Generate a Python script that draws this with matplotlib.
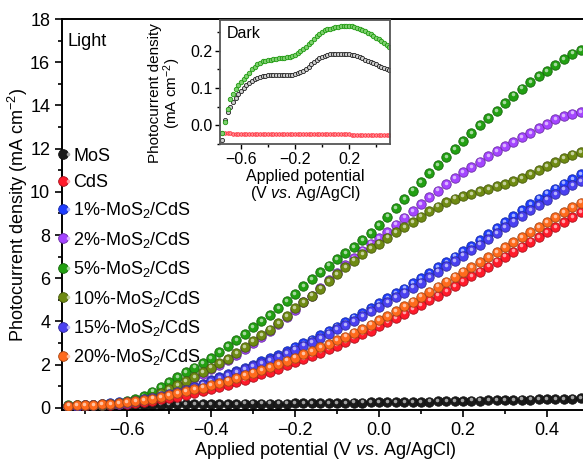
import numpy as np
import matplotlib
matplotlib.use("Agg")
import matplotlib.pyplot as plt
from matplotlib.lines import Line2D
from matplotlib.legend_handler import HandlerTuple
from matplotlib import transforms
from matplotlib.colors import to_rgb

plt.rcParams['font.family'] = ['Liberation Sans', 'DejaVu Sans']
plt.rcParams['mathtext.fontset'] = 'custom'
plt.rcParams['mathtext.rm'] = 'Liberation Sans'
plt.rcParams['mathtext.it'] = 'Liberation Sans:italic'

# ---- main panel (light), potential sweep every 0.02 V ----
potential = np.linspace(-0.74, 0.48, 62)

mos = [0.08, 0.09, 0.10, 0.11, 0.12, 0.12, 0.13, 0.13, 0.14, 0.14,
       0.15, 0.15, 0.16, 0.16, 0.16, 0.17, 0.17, 0.17, 0.18, 0.18,
       0.18, 0.19, 0.19, 0.19, 0.20, 0.20, 0.20, 0.21, 0.21, 0.21,
       0.22, 0.22, 0.23, 0.23, 0.24, 0.24, 0.25, 0.25, 0.26, 0.26,
       0.27, 0.28, 0.28, 0.29, 0.30, 0.30, 0.31, 0.32, 0.33, 0.33,
       0.34, 0.35, 0.36, 0.37, 0.38, 0.38, 0.39, 0.40, 0.41, 0.42,
       0.43, 0.44]
cds = [0.08, 0.09, 0.10, 0.11, 0.12, 0.14, 0.16, 0.19, 0.23, 0.28,
       0.33, 0.39, 0.45, 0.52, 0.59, 0.67, 0.76, 0.86, 0.96, 1.07,
       1.18, 1.30, 1.42, 1.55, 1.68, 1.82, 1.96, 2.10, 2.25, 2.40,
       2.56, 2.72, 2.88, 3.05, 3.22, 3.40, 3.58, 3.77, 3.96, 4.16,
       4.36, 4.56, 4.77, 4.98, 5.20, 5.42, 5.64, 5.86, 6.08, 6.31,
       6.54, 6.77, 7.00, 7.23, 7.46, 7.69, 7.92, 8.15, 8.38, 8.61,
       8.84, 9.07]
p1 = [0.10, 0.11, 0.13, 0.15, 0.18, 0.21, 0.25, 0.29, 0.34, 0.40,
      0.47, 0.55, 0.64, 0.74, 0.85, 0.98, 1.12, 1.28, 1.42, 1.58,
      1.72, 1.86, 2.00, 2.15, 2.30, 2.45, 2.62, 2.80, 2.98, 3.16,
      3.36, 3.56, 3.76, 3.97, 4.18, 4.40, 4.62, 4.85, 5.08, 5.30,
      5.52, 5.76, 6.00, 6.25, 6.50, 6.75, 7.00, 7.25, 7.50, 7.78,
      8.05, 8.32, 8.60, 8.88, 9.15, 9.42, 9.68, 9.92, 10.15, 10.38,
      10.60, 10.82]
p2 = [0.09, 0.10, 0.11, 0.12, 0.14, 0.16, 0.19, 0.24, 0.30, 0.37,
      0.48, 0.63, 0.80, 0.98, 1.16, 1.36, 1.58, 1.80, 2.00, 2.20,
      2.45, 2.72, 3.00, 3.28, 3.56, 3.86, 4.20, 4.55, 4.88, 5.20,
      5.55, 5.90, 6.26, 6.60, 6.94, 7.28, 7.60, 7.85, 8.15, 8.48,
      8.80, 9.12, 9.42, 9.75, 10.05, 10.35, 10.65, 10.92, 11.15, 11.40,
      11.65, 11.88, 12.10, 12.30, 12.52, 12.72, 12.95, 13.15, 13.35, 13.50,
      13.62, 13.70]
p5 = [0.12, 0.13, 0.14, 0.15, 0.17, 0.20, 0.24, 0.30, 0.40, 0.55,
      0.75, 0.97, 1.20, 1.42, 1.64, 1.86, 2.08, 2.30, 2.58, 2.86,
      3.12, 3.40, 3.72, 4.02, 4.30, 4.62, 4.95, 5.28, 5.62, 5.95,
      6.28, 6.58, 6.88, 7.15, 7.45, 7.75, 8.10, 8.45, 8.85, 9.25,
      9.65, 10.05, 10.45, 10.85, 11.25, 11.62, 11.98, 12.35, 12.72, 13.08,
      13.42, 13.75, 14.10, 14.45, 14.78, 15.08, 15.35, 15.60, 15.88, 16.15,
      16.40, 16.55]
p10 = [0.10, 0.11, 0.12, 0.13, 0.15, 0.18, 0.21, 0.26, 0.32, 0.40,
       0.52, 0.68, 0.86, 1.04, 1.22, 1.42, 1.64, 1.86, 2.06, 2.26,
       2.52, 2.80, 3.08, 3.35, 3.62, 3.92, 4.25, 4.60, 4.90, 5.20,
       5.52, 5.85, 6.20, 6.50, 6.82, 7.12, 7.40, 7.60, 7.88, 8.12,
       8.35, 8.58, 8.85, 9.10, 9.32, 9.52, 9.68, 9.80, 9.90, 10.02,
       10.14, 10.25, 10.36, 10.50, 10.65, 10.82, 11.00, 11.20, 11.38, 11.55,
       11.72, 11.85]
p15 = [0.09, 0.10, 0.12, 0.14, 0.17, 0.20, 0.24, 0.28, 0.33, 0.39,
       0.46, 0.54, 0.62, 0.72, 0.83, 0.95, 1.08, 1.23, 1.37, 1.52,
       1.66, 1.80, 1.94, 2.08, 2.22, 2.37, 2.53, 2.70, 2.88, 3.05,
       3.24, 3.43, 3.63, 3.83, 4.03, 4.24, 4.46, 4.68, 4.90, 5.12,
       5.33, 5.56, 5.80, 6.05, 6.30, 6.55, 6.80, 7.05, 7.30, 7.56,
       7.82, 8.08, 8.35, 8.62, 8.88, 9.14, 9.40, 9.64, 9.88, 10.10,
       10.30, 10.48]
p20 = [0.10, 0.12, 0.13, 0.14, 0.16, 0.18, 0.21, 0.25, 0.30, 0.36,
       0.43, 0.51, 0.59, 0.67, 0.76, 0.85, 0.94, 1.04, 1.15, 1.26,
       1.38, 1.50, 1.63, 1.76, 1.90, 2.04, 2.18, 2.33, 2.48, 2.64,
       2.80, 2.96, 3.13, 3.30, 3.48, 3.66, 3.85, 4.05, 4.26, 4.48,
       4.70, 4.92, 5.15, 5.38, 5.61, 5.84, 6.07, 6.30, 6.53, 6.76,
       6.99, 7.22, 7.45, 7.68, 7.91, 8.14, 8.37, 8.60, 8.83, 9.06,
       9.28, 9.50]

labels = ['MoS', 'CdS', '1%-MoS$_2$/CdS', '2%-MoS$_2$/CdS', '5%-MoS$_2$/CdS',
          '10%-MoS$_2$/CdS', '15%-MoS$_2$/CdS', '20%-MoS$_2$/CdS']
series = [mos, cds, p1, p2, p5, p10, p15, p20]
colors = ['#1a1a1a', '#ff1a2a', '#1f3dff', '#a445ff', '#22a012',
          '#6e8a12', '#4a40f0', '#ff6a1c']

# ---- inset (dark) ----
dark_v = np.linspace(-0.74, 0.50, 63)
dark_mos = [-0.040, 0.015, 0.035, 0.050, 0.062, 0.073, 0.083, 0.092, 0.100, 0.107,
            0.113, 0.118, 0.123, 0.127, 0.130, 0.132, 0.133, 0.134, 0.134, 0.134,
            0.134, 0.134, 0.134, 0.134, 0.135, 0.135, 0.136, 0.137, 0.139, 0.142,
            0.146, 0.151, 0.157, 0.163, 0.169, 0.175, 0.179, 0.183, 0.186, 0.188,
            0.190, 0.191, 0.192, 0.192, 0.192, 0.192, 0.191, 0.190, 0.189, 0.187,
            0.185, 0.182, 0.179, 0.176, 0.173, 0.170, 0.167, 0.163, 0.160, 0.157,
            0.154, 0.151, 0.148]
dark_cds = [-0.020, -0.021, -0.021, -0.021, -0.022, -0.022, -0.022, -0.022, -0.022, -0.022,
            -0.022, -0.022, -0.022, -0.022, -0.022, -0.023, -0.023, -0.023, -0.023, -0.023,
            -0.023, -0.023, -0.023, -0.023, -0.023, -0.023, -0.023, -0.023, -0.023, -0.023,
            -0.024, -0.024, -0.024, -0.024, -0.024, -0.024, -0.024, -0.024, -0.024, -0.024,
            -0.024, -0.024, -0.024, -0.024, -0.024, -0.024, -0.024, -0.024, -0.025, -0.025,
            -0.025, -0.025, -0.025, -0.025, -0.025, -0.025, -0.025, -0.025, -0.025, -0.025,
            -0.025, -0.025, -0.025]
dark_p5 = [-0.020, 0.010, 0.045, 0.070, 0.085, 0.097, 0.107, 0.116, 0.124, 0.132,
           0.140, 0.150, 0.157, 0.163, 0.168, 0.171, 0.173, 0.175, 0.176, 0.177,
           0.178, 0.179, 0.180, 0.181, 0.182, 0.184, 0.186, 0.189, 0.193, 0.198,
           0.204, 0.210, 0.217, 0.224, 0.232, 0.239, 0.245, 0.250, 0.254, 0.257,
           0.259, 0.261, 0.263, 0.264, 0.265, 0.266, 0.266, 0.266, 0.265, 0.263,
           0.261, 0.258, 0.255, 0.252, 0.248, 0.244, 0.240, 0.235, 0.230, 0.225,
           0.220, 0.215, 0.210]


def shade(c, f):
    r = np.array(to_rgb(c))
    if f < 0:
        return tuple(r * (1 + f))
    return tuple(r + (1 - r) * f)


def spheres(ax, x, y, c, ms, z):
    ax.plot(x, y, 'o', ms=ms, mfc=c, mec=shade(c, -0.35), mew=0.6,
            ls='none', zorder=z)
    hl = transforms.offset_copy(ax.transData, fig=ax.figure, x=-0.5, y=0.9,
                                units='points')
    ax.plot(x, y, 'o', ms=ms * 0.38, mfc=shade(c, 0.6), mec='none',
            ls='none', zorder=z + 0.5, transform=hl)


W, H = 583, 461
fig = plt.figure(figsize=(W / 100, H / 100), dpi=100)
ax = fig.add_axes([62 / W, 1 - 410 / H, 527 / W, 391 / H])

for k, (yv, c) in enumerate(zip(series, colors)):
    spheres(ax, potential, yv, c, 6.8, 2 + k)

ax.set_xlim(-0.755, 0.5)
ax.set_ylim(-0.1, 18)
ax.set_xticks([-0.6, -0.4, -0.2, 0.0, 0.2, 0.4])
ax.set_xticks(np.arange(-0.7, 0.5, 0.1), minor=True)
ax.set_yticks(range(0, 19, 2))
ax.set_yticks(range(1, 18, 2), minor=True)
ax.tick_params(which='both', direction='out', width=1.2, labelsize=13,
               top=False, right=False)
ax.tick_params(which='major', length=5)
ax.tick_params(which='minor', length=3)
for s in ax.spines.values():
    s.set_linewidth(1.4)

ax.set_xlabel('Applied potential (V $\\mathit{vs.}\\,$Ag/AgCl)', fontsize=13)
ax.set_ylabel('Photocurrent density (mA cm$^{-2}$)', fontsize=13)
ax.xaxis.set_label_coords(0.5, -0.077)
ax.yaxis.set_label_coords(-0.06, 0.5)

ax.text(0.01, 0.965, 'Light', transform=ax.transAxes, fontsize=13,
        ha='left', va='top')

handles = []
for c in colors:
    base = Line2D([], [], marker='o', ls='none', ms=7.0, mfc=c,
                  mec=shade(c, -0.35), mew=0.6)
    spot = Line2D([], [], marker='o', ls='none', ms=2.6, mfc=shade(c, 0.6),
                  mec='none')
    handles.append((base, spot))
ax.legend(handles, labels, loc='upper left', bbox_to_anchor=(-0.004, 0.671),
          frameon=False, fontsize=13, handlelength=0.6, handletextpad=0.15,
          labelspacing=0.52, borderpad=0, borderaxespad=0,
          handler_map={tuple: HandlerTuple(ndivide=None, pad=0)})

# inset
ins = fig.add_axes([220 / W, 1 - 144 / H, 170 / W, 124 / H])
ins.plot(dark_v, dark_cds, 'o', ms=2.6, mfc='#ff8a90', mec='#ff2030',
         mew=0.5, ls='none')
ins.plot(dark_v, dark_mos, 'o', ms=3.0, mfc='#d0d0d0', mec='#202020',
         mew=0.6, ls='none')
ins.plot(dark_v, dark_p5, 'o', ms=3.2, mfc='#7fd070', mec='#1f9a10',
         mew=0.6, ls='none')
ins.set_xlim(-0.756, 0.504)
ins.set_ylim(-0.046, 0.282)
ins.set_xticks([-0.6, -0.2, 0.2])
ins.set_xticks([-0.4, 0.0, 0.4], minor=True)
ins.set_yticks([0.0, 0.1, 0.2])
ins.set_yticks([-0.05, 0.05, 0.15, 0.25], minor=True)
ins.set_yticklabels(['0.0', '0.1', '0.2'])
ins.tick_params(which='both', direction='out', labelsize=11.5, width=1,
                top=False, right=False, pad=2)
ins.tick_params(which='major', length=3.5)
ins.tick_params(which='minor', length=2)
for s in ins.spines.values():
    s.set_linewidth(1.3)
    s.set_color('#555555')
ins.set_xlabel('Applied potential\n(V $\\mathit{vs.}\\,$Ag/AgCl)', fontsize=11.5,
               linespacing=1.0, labelpad=2)
ins.set_ylabel('Photocurrent density\n(mA cm$^{-2}$)', fontsize=11,
               linespacing=1.0)
ins.yaxis.set_label_coords(-0.215, 0.41)
ins.text(0.04, 0.95, 'Dark', transform=ins.transAxes, fontsize=11.5,
         ha='left', va='top')

fig.savefig('out.png', dpi=100)
